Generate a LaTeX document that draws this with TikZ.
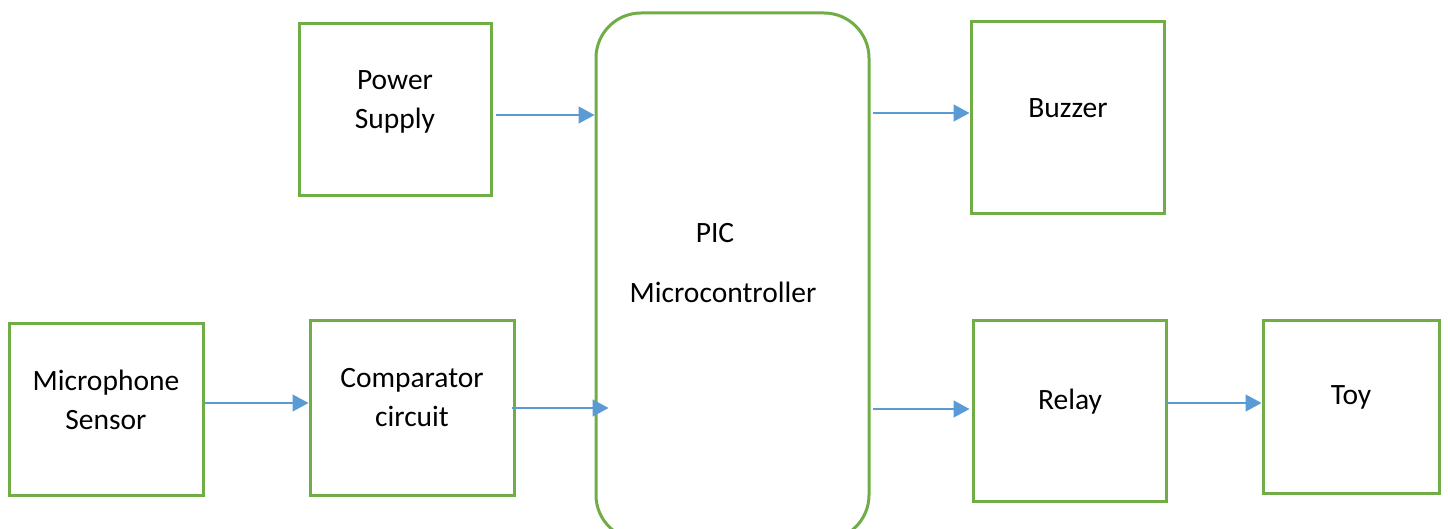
\documentclass[tikz,border=0pt]{standalone}
\usepackage{fontspec}
\setmainfont{Carlito}
\usetikzlibrary{arrows.meta,calc}
\definecolor{boxgreen}{HTML}{70AD47}
\definecolor{arrblue}{HTML}{5B9BD5}
\begin{document}
\begin{tikzpicture}[x=1pt,y=-1pt,
  blk/.style={draw=boxgreen,line width=3pt,inner sep=0pt},
  lbl/.style={font=\fontsize{29.5}{39}\selectfont,align=center,inner sep=0pt},
  arr/.style={draw=arrblue,line width=1.5pt,-{Triangle[length=16pt,width=17pt]}}]
\useasboundingbox (0,0) rectangle (1448,529);
\clip (0,0) rectangle (1448,529);
% boxes
\node[blk,minimum width=192pt,minimum height=172pt] (ps) at (395,110) {};
\node[blk,minimum width=273pt,minimum height=527pt,rounded corners=45pt] (pic) at (732.5,276.5) {};
\node[blk,minimum width=193pt,minimum height=192pt] (bz) at (1067.5,118) {};
\node[blk,minimum width=194pt,minimum height=172pt] (mic) at (106,409) {};
\node[blk,minimum width=204pt,minimum height=175pt] (cmp) at (412,407.5) {};
\node[blk,minimum width=193pt,minimum height=181pt] (rel) at (1069.5,410.5) {};
\node[blk,minimum width=176pt,minimum height=173pt] (toy) at (1351,406.5) {};
% labels
\node[lbl] (tps) at (395,101.5) {Power\\Supply};
\node[lbl] (tpic1) at (715,233) {PIC};
\node[lbl] (tpic2) at (723,292) {Microcontroller};
\node[lbl] (tbz) at (1068,108) {Buzzer};
\node[lbl] (tmic) at (106,400) {Microphone\\Sensor};
\node[lbl] (tcmp) at (412,398) {Comparator\\circuit};
\node[lbl] (trel) at (1070,402) {Relay};
\node[lbl] (ttoy) at (1351,397) {Toy};
% arrows
\draw[arr] ($(ps.east)+(3,5)$) -- ($(pic.west)+(0,-161.5)$);
\draw[arr] ($(pic.east)+(2,-163.5)$) -- ($(bz.west)+(0,-5)$);
\draw[arr] ($(mic.east)+(0,-6)$) -- ($(cmp.west)+(0,-4.5)$);
\draw[arr] ($(cmp.east)+(-4,0.5)$) -- ($(pic.west)+(14,131.5)$);
\draw[arr] ($(pic.east)+(2,132.5)$) -- ($(rel.west)+(-2,-1.5)$);
\draw[arr] ($(rel.east)+(-3,-7.5)$) -- ($(toy.west)+(0,-3.5)$);
\end{tikzpicture}
\end{document}
